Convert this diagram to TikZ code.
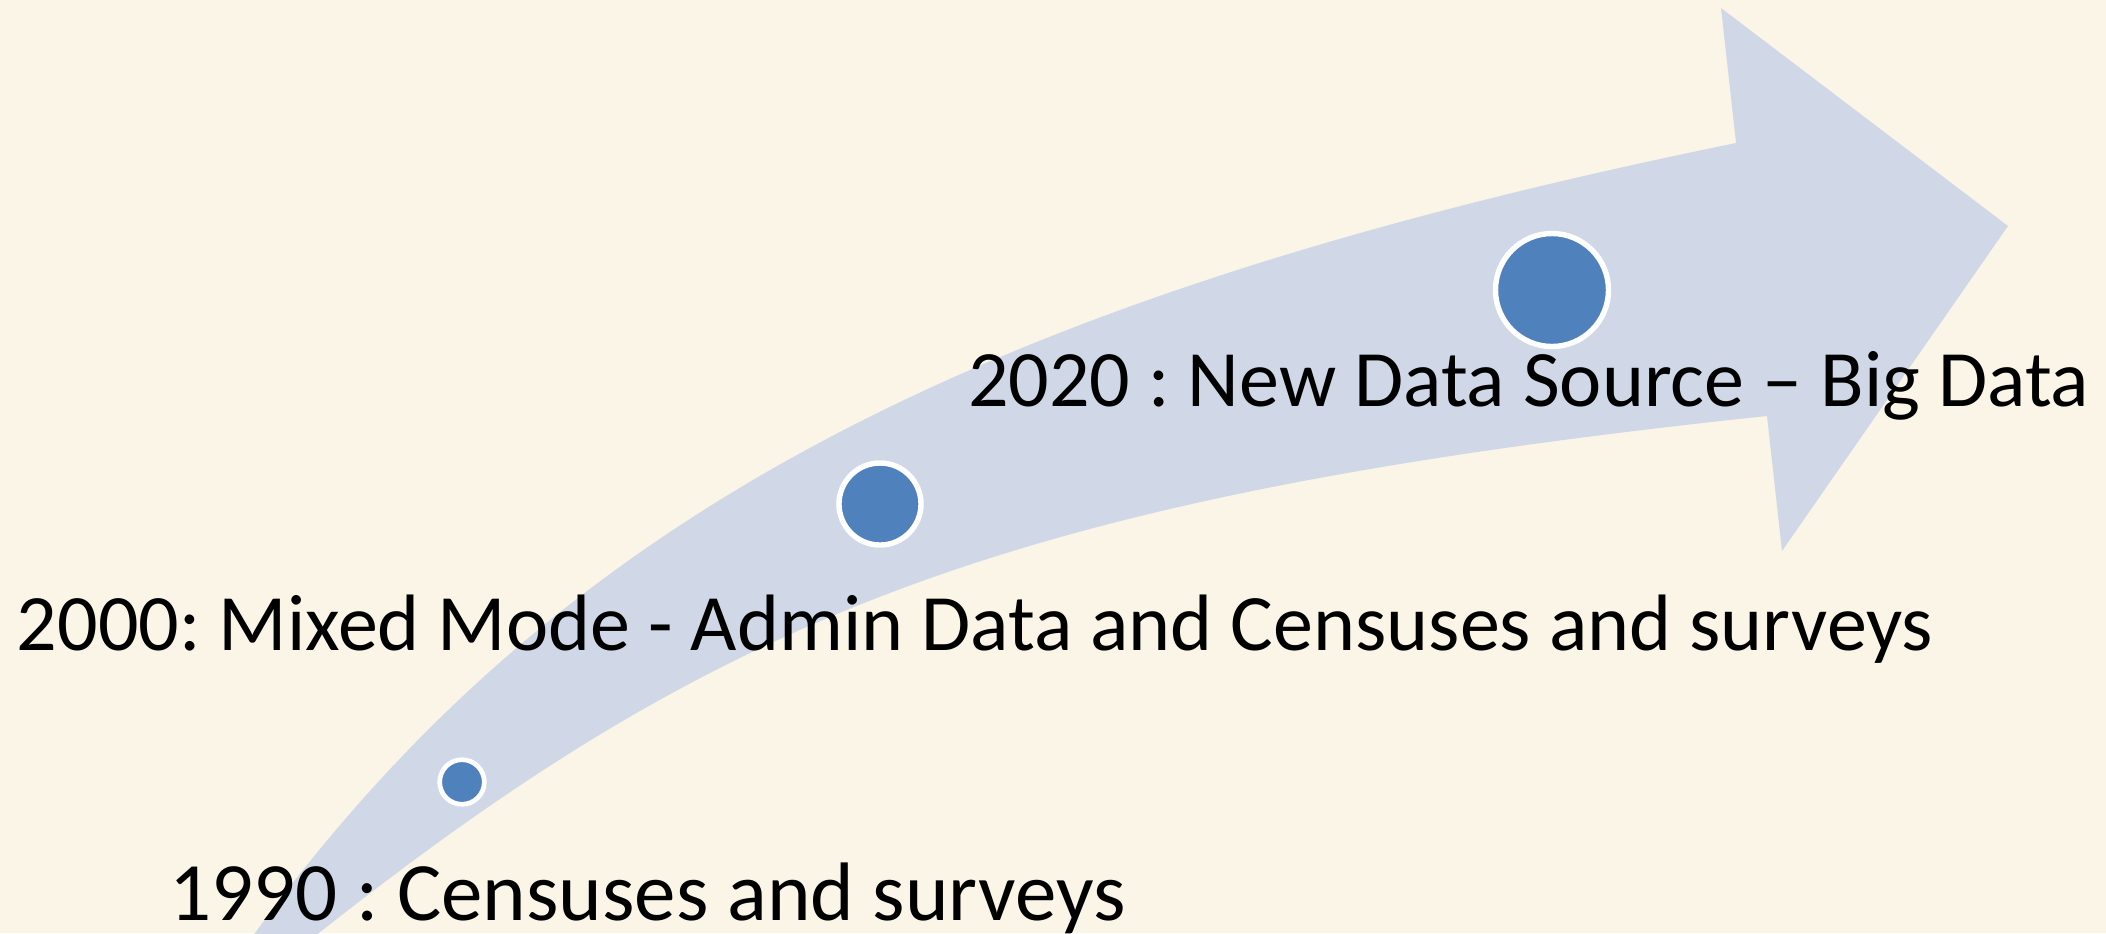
\documentclass[tikz,border=0pt]{standalone}
\usepackage{fontspec}
\setmainfont{Carlito}
\frenchspacing
\definecolor{bg}{RGB}{251,245,231}
\definecolor{band}{RGB}{208,216,232}
\definecolor{dot}{RGB}{79,129,189}
\begin{document}
\begin{tikzpicture}[x=0.5pt,y=-0.5pt,
  dotnode/.style={circle, fill=dot, draw=white, line width=2.7pt, inner sep=0pt},
  yearlabel/.style={anchor=base west, inner sep=0pt, outer sep=0pt, font=\fontsize{40}{48}\selectfont\frenchspacing, text=black}]
\useasboundingbox (0,0) rectangle (2106,933);
\clip (0,0) rectangle (2106,933);
\fill[bg] (0,0) rectangle (2106,933);
\fill[band] (235,960) -- (255,933) .. controls (555.6,520.4) and (970.3,299.2) .. (1736,143)
  -- (1721,8) -- (2008,226) -- (1782,551) -- (1767,416)
  .. controls (1015,495.5) and (722,614) .. (319,933) -- (285,960) -- cycle;
\node[dotnode, minimum size=22.3pt, line width=2.35pt] (d1990) at (462,782) {};
\node[dotnode, minimum size=41pt] (d2000) at (880,504) {};
\node[dotnode, minimum size=56.5pt] (d2020) at (1552,290) {};
\node[yearlabel] (t2020) at (968,406) {2020 : New Data Source -- Big Data};
\node[yearlabel] (t2000) at (17,650) {2000: Mixed Mode - Admin Data and Censuses and surveys};
\node[yearlabel, font=\fontsize{41.5}{50}\selectfont\frenchspacing] (t1990) at (169,920) {1990 : Censuses and surveys};
\end{tikzpicture}
\end{document}
